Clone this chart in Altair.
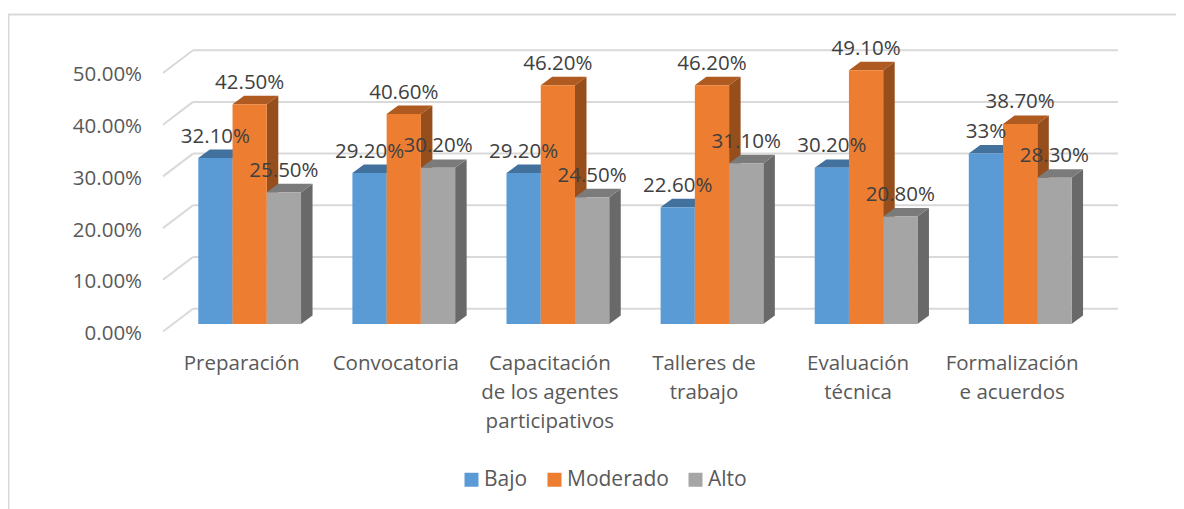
import altair as alt
import pandas as pd

categories = ["Preparación", "Convocatoria", "Capacitación\nde los agentes\nparticipativos",
              "Talleres de\ntrabajo", "Evaluación\ntécnica", "Formalización\ne acuerdos"]
series = ["Bajo", "Moderado", "Alto"]
bajo = [32.1, 29.2, 29.2, 22.6, 30.2, 33.0]
moderado = [42.5, 40.6, 46.2, 46.2, 49.1, 38.7]
alto = [25.5, 30.2, 24.5, 31.1, 20.8, 28.3]
labels_bajo = ["32.10%", "29.20%", "29.20%", "22.60%", "30.20%", "33%"]
labels_moderado = ["42.50%", "40.60%", "46.20%", "46.20%", "49.10%", "38.70%"]
labels_alto = ["25.50%", "30.20%", "24.50%", "31.10%", "20.80%", "28.30%"]
ticks = [0, 10, 20, 30, 40, 50]
tick_labels = ["0.00%", "10.00%", "20.00%", "30.00%", "40.00%", "50.00%"]

front_colors = ["#5B9BD5", "#ED7D31", "#A5A5A5"]
top_colors = ["#41719C", "#AE5A21", "#7B7B7B"]
side_colors = ["#3F6E99", "#964E1C", "#696969"]
FONT = "Open Sans"
FS = 20.5

# geometry in scale units: one group = 1 on x, one percentage point = 1 on y
BAR = 1 / 4.5
DX = 0.0747
DY = 1.64
W, H = 1168, 501
X_DOM = [-1.2349, 6.3445]
Y_DOM = [-35.78, 61.12]

x_scale = alt.Scale(domain=X_DOM, nice=False, zero=False)
y_scale = alt.Scale(domain=Y_DOM, nice=False, zero=False)
X = lambda f: alt.X(f, type="quantitative", scale=x_scale, axis=None)
Y = lambda f: alt.Y(f, type="quantitative", scale=y_scale, axis=None)

layers = []

# outer frame
frame = pd.DataFrame({"x": [X_DOM[0]], "x2": [X_DOM[1]], "ytop": [59.86], "ybot": [Y_DOM[0]]})
layers.append(alt.Chart(frame).mark_rule(color="#D9D9D9", strokeWidth=2).encode(
    x=X("x"), x2="x2", y=Y("ytop")))
layers.append(alt.Chart(frame).mark_rule(color="#D9D9D9", strokeWidth=3).encode(
    x=X("x"), y=Y("ytop"), y2="ybot"))

# back wall grid and left wall diagonals
grid = pd.DataFrame({"t": ticks})
grid["back"] = grid.t + 2.96
grid["front"] = grid.t - 1.45
grid["xb"] = -0.0344
grid["xe"] = 5.968
grid["xf"] = -0.229
layers.append(alt.Chart(grid).mark_rule(color="#D9D9D9", strokeWidth=2).encode(
    x=X("xb"), x2="xe", y=Y("back")))
layers.append(alt.Chart(grid).mark_rule(color="#D9D9D9", strokeWidth=2).encode(
    x=X("xf"), x2="xb", y=Y("front"), y2="back"))

# bars, left to right inside each group
for s, (name, vals) in enumerate(zip(series, [bajo, moderado, alto])):
    side, top, front = [], [], []
    for g, v in enumerate(vals):
        l = g + s * BAR
        r = l + BAR
        side += [dict(b=g, x=r, y=0, y2=v), dict(b=g, x=r + DX, y=DY, y2=v + DY)]
        top += [dict(b=g, x=l, y=v, y2=v), dict(b=g, x=l + DX, y=v, y2=v + DY),
                dict(b=g, x=r, y=v, y2=v + DY), dict(b=g, x=r + DX, y=v + DY, y2=v + DY)]
        front.append(dict(x=l, x2=r, y=0, y2=v, serie=name))
    layers.append(alt.Chart(pd.DataFrame(side)).mark_area(color=side_colors[s]).encode(
        x=X("x"), y=Y("y"), y2="y2", detail="b:N"))
    layers.append(alt.Chart(pd.DataFrame(top)).mark_area(color=top_colors[s]).encode(
        x=X("x"), y=Y("y"), y2="y2", detail="b:N"))
    layers.append(alt.Chart(pd.DataFrame(front)).mark_bar().encode(
        x=X("x"), x2="x2", y=Y("y"), y2="y2",
        color=alt.Color("serie:N", scale=alt.Scale(domain=series, range=front_colors),
                        legend=alt.Legend(orient="none", legendX=453, legendY=461, direction="horizontal",
                                          title=None, symbolType="square", symbolSize=196,
                                          symbolStrokeWidth=0, labelFont=FONT, labelFontSize=21,
                                          labelColor="#595959", columnPadding=16, labelOffset=2,
                                          padding=0, labelLimit=200))))

# data labels
lab_rows = []
for s, (vals, labs) in enumerate(zip([bajo, moderado, alto], [labels_bajo, labels_moderado, labels_alto])):
    for g, (v, t) in enumerate(zip(vals, labs)):
        lab_rows.append(dict(x=g + (s + 0.5) * BAR, y=v, t=t))
layers.append(alt.Chart(pd.DataFrame(lab_rows)).mark_text(
    font=FONT, fontSize=FS, color="#404040", dy=-21.5, baseline="middle", align="center").encode(
    x=X("x"), y=Y("y"), text="t:N"))

# value axis labels
tl = pd.DataFrame({"t": ticks, "s": tick_labels})
tl["x"] = -0.365
layers.append(alt.Chart(tl).mark_text(
    font=FONT, fontSize=FS, color="#595959", dy=10, baseline="middle", align="right").encode(
    x=X("x"), y=Y("t"), text="s:N"))

# category labels
cat = pd.DataFrame({"c": categories, "x": [i + 1.5 * BAR - 0.052 for i in range(6)], "y": 0})
layers.append(alt.Chart(cat).mark_text(
    font=FONT, fontSize=FS, color="#595959", lineBreak="\n", lineHeight=29, dy=30,
    baseline="top", align="center").encode(
    x=X("x"), y=Y("y"), text="c:N"))

chart = alt.layer(*layers).properties(
    width=W, height=H, padding=0, autosize=alt.AutoSizeParams(type="none")
).configure_view(stroke=None)
chart.save("out.html", embed_options={"renderer": "svg", "actions": False})
